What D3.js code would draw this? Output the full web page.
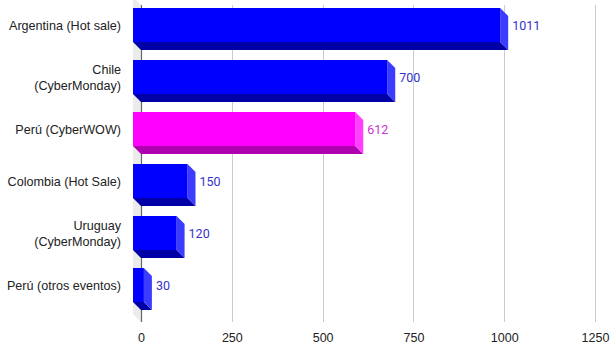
<!DOCTYPE html>
<html><head><meta charset="utf-8">
<script src="https://cdn.jsdelivr.net/npm/d3@7"></script>
<style>html,body{margin:0;padding:0;background:#fff;}svg{display:block;font-family:"Liberation Sans",Arial,sans-serif;}</style>
</head><body>
<script>
const categories = [["Argentina (Hot sale)"], ["Chile", "(CyberMonday)"], ["Perú (CyberWOW)"], ["Colombia (Hot Sale)"], ["Uruguay", "(CyberMonday)"], ["Perú (otros eventos)"]];
const values = [1011, 700, 612, 150, 120, 30];
const highlight = [false, false, true, false, false, false];
const tickValues = [0, 250, 500, 750, 1000, 1250];

(function () {
const W = 615, H = 357, D = 8;
const svg = d3.select("body").append("svg").attr("width", W).attr("height", H);
const x = d3.scaleLinear().domain([0, 1250]).range([141, 595]);
const y = d3.scaleBand().domain(d3.range(values.length)).range([7, 319]).paddingInner(18/52).paddingOuter(9/52);
const plotTop = 5, plotBottom = 322;

// left wall
svg.append("path").attr("d", `M${x(0)-D},${plotTop-D}L${x(0)},${plotTop}L${x(0)},${plotBottom}L${x(0)-D},${plotBottom-D}Z`).attr("fill", "#ebebeb");

// gridlines
svg.append("g").selectAll("line").data(tickValues.slice(1)).join("line")
  .attr("x1", d => Math.round(x(d)) + 0.5).attr("x2", d => Math.round(x(d)) + 0.5)
  .attr("y1", plotTop).attr("y2", plotBottom).attr("stroke", "#cccccc").attr("stroke-width", 1);
svg.append("line").attr("x1", Math.round(x(0)) + 0.5).attr("x2", Math.round(x(0)) + 0.5)
  .attr("y1", plotTop).attr("y2", plotBottom).attr("stroke", "#666").attr("stroke-width", 1.2);

// axis labels
const xa = d3.axisBottom(x).tickValues(tickValues).tickSize(0).tickPadding(0).tickFormat(d3.format("d"));
const ag = svg.append("g").attr("transform", `translate(0,${plotBottom + 7})`).call(xa);
ag.select(".domain").remove();
ag.selectAll("text").attr("font-size", 12.5).attr("fill", "#222").attr("dy", "1.0em").style("font-family", "'Liberation Sans',Arial,sans-serif");

const cols = {
  normal: {front: "#0000ff", bottom: "#0000a6", side: "#3c3cff", text: "#3333cc"},
  hi: {front: "#ff00ff", bottom: "#ae00ae", side: "#ff40ff", text: "#cc33cc"}
};

const bars = svg.append("g").selectAll("g").data(values).join("g");
bars.each(function(v, i) {
  const g = d3.select(this);
  const c = highlight[i] ? cols.hi : cols.normal;
  const x0 = x(0) - D, x1 = x(v) - D;
  const y0 = y(i) - D, y1 = y0 + y.bandwidth();
  g.append("path").attr("d", `M${x0},${y1}L${x1},${y1}L${x1 + D},${y1 + D}L${x0 + D},${y1 + D}Z`).attr("fill", c.bottom);
  g.append("path").attr("d", `M${x1},${y0}L${x1 + D},${y0 + D}L${x1 + D},${y1 + D}L${x1},${y1}Z`).attr("fill", c.side);
  g.append("rect").attr("x", x0).attr("y", y0).attr("width", x1 - x0).attr("height", y1 - y0).attr("fill", c.front);
  g.append("text").attr("x", x(v) + 4).attr("y", (y0 + y1) / 2 + 1).attr("dy", "0.35em")
    .attr("font-size", 12.5).attr("fill", c.text).style("font-family", "Roboto,'Liberation Sans',sans-serif").text(v);
  const lines = categories[i];
  const t = g.append("text").attr("text-anchor", "end").attr("font-size", 12.6).attr("fill", "#222");
  const cy = (y0 + y1) / 2 + 1, lh = 16;
  lines.forEach((s, k) => {
    t.append("tspan").attr("x", 121).attr("y", cy + (k - (lines.length - 1) / 2) * lh).attr("dy", "0.35em").text(s);
  });
});
})();
</script>
</body></html>
